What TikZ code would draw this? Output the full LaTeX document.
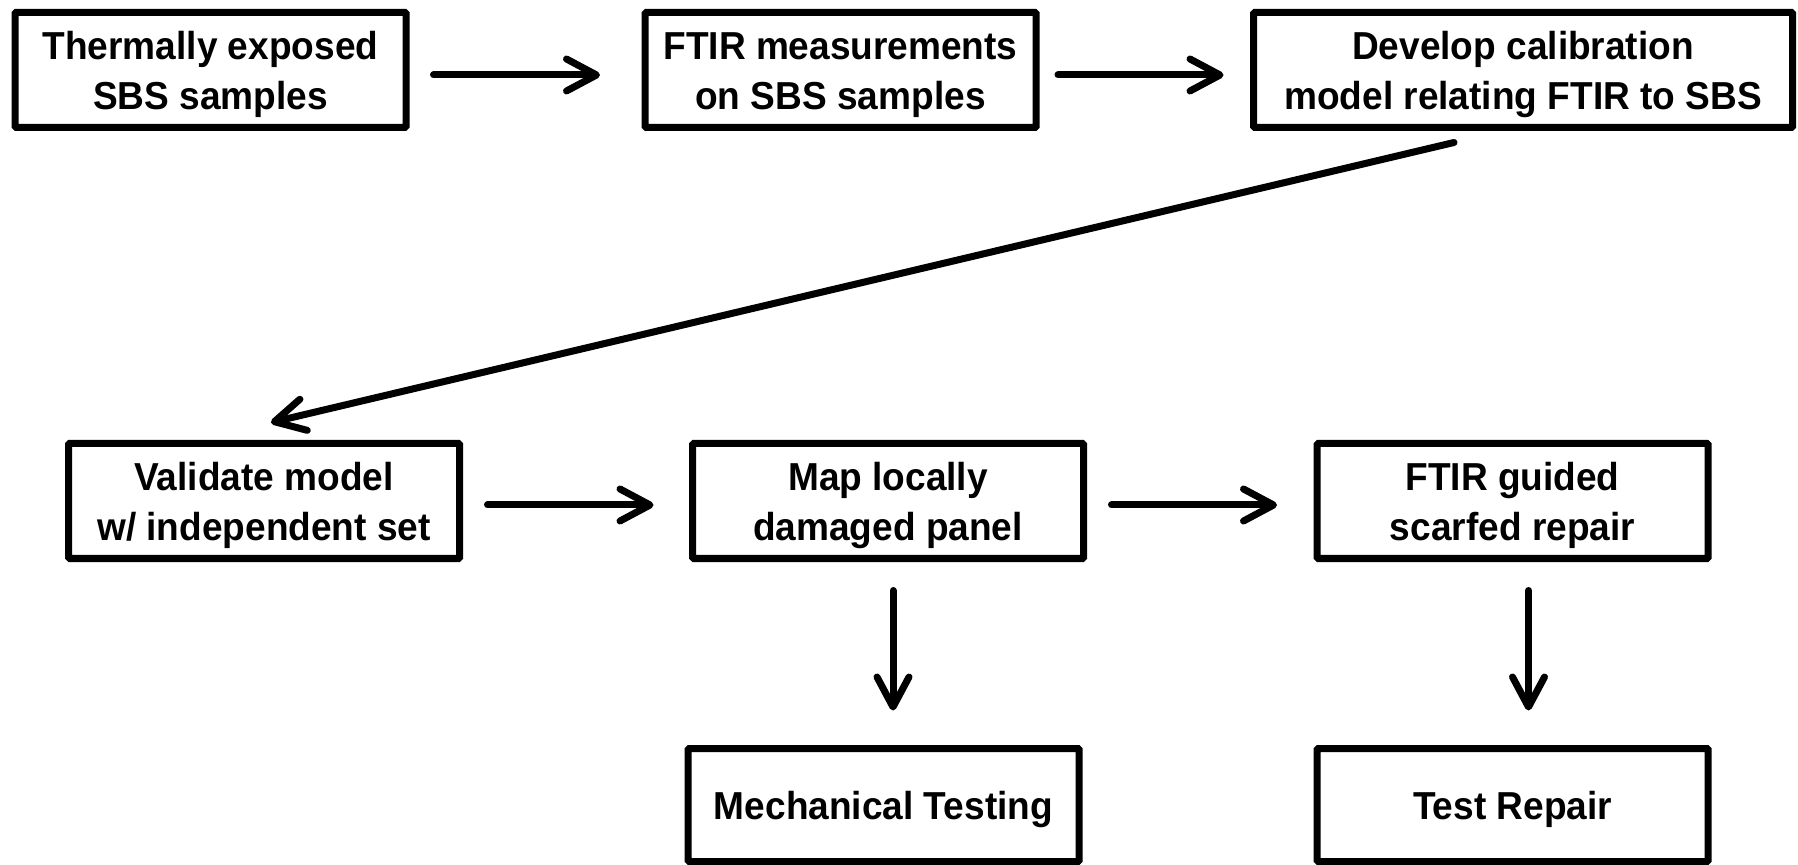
\documentclass[tikz,border=0pt]{standalone}
\usepackage{fontspec}
\setmainfont{Liberation Sans}[FakeStretch=0.95]
\usetikzlibrary{arrows.meta}
\newcommand{\boxtext}[1]{\raisebox{-2.3pt}[\height][\depth]{\begin{tabular}{@{}c@{}}#1\end{tabular}}}
\begin{document}
\begin{tikzpicture}[x=0.5pt,y=-0.5pt,
  box/.style={draw, line width=3.5pt, inner sep=0pt,
    font=\bfseries\fontsize{19.5}{25}\selectfont,
    minimum width=195.5pt, minimum height=57.5pt, rounded corners=0.6pt},
  arr/.style={line width=3.5pt, line cap=round,
    -{Straight Barb[length=15pt,width=16pt,round]}}]
\useasboundingbox (0,0) rectangle (1798,865);
\node[box] (n1) at (210.5,70) {\boxtext{Thermally exposed\\SBS samples}};
\node[box] (n2) at (840.5,70) {\boxtext{FTIR measurements\\on SBS samples}};
\node[box, minimum width=269.5pt] (n3) at (1523,70) {\boxtext{Develop calibration\\model relating FTIR to SBS}};
\node[box] (n4) at (264,501) {\boxtext{Validate model\\w/ independent set}};
\node[box] (n5) at (888,501) {\boxtext{Map locally\\damaged panel}};
\node[box] (n6) at (1512.5,501) {\boxtext{FTIR guided\\scarfed repair}};
\node[box, minimum height=56.5pt] (n7) at (883.5,805) {\boxtext{Mechanical Testing}};
\node[box, minimum height=56.5pt] (n8) at (1512.5,805) {\boxtext{Test Repair}};
\draw[arr] ([xshift=12pt,yshift=-2.5pt]n1.east) -- ([xshift=-20.75pt,yshift=-2.5pt]n2.west);
\draw[arr] ([xshift=9.25pt,yshift=-2.5pt]n2.east) -- ([xshift=-13.25pt,yshift=-2.5pt]n3.west);
\draw[arr] ([xshift=-34.5pt,yshift=-5.75pt]n3.south) -- ([xshift=3.5pt,yshift=8.75pt]n4.north);
\draw[arr] ([xshift=12.25pt,yshift=-2pt]n4.east) -- ([xshift=-17.75pt,yshift=-2pt]n5.west);
\draw[arr] ([xshift=12.25pt,yshift=-2pt]n5.east) -- ([xshift=-18.25pt,yshift=-2pt]n6.west);
\draw[arr] ([xshift=2.5pt,yshift=-14.25pt]n5.south) -- ([xshift=4.75pt,yshift=17.25pt]n7.north);
\draw[arr] ([xshift=8pt,yshift=-14.25pt]n6.south) -- ([xshift=8pt,yshift=17.25pt]n8.north);
\end{tikzpicture}
\end{document}
